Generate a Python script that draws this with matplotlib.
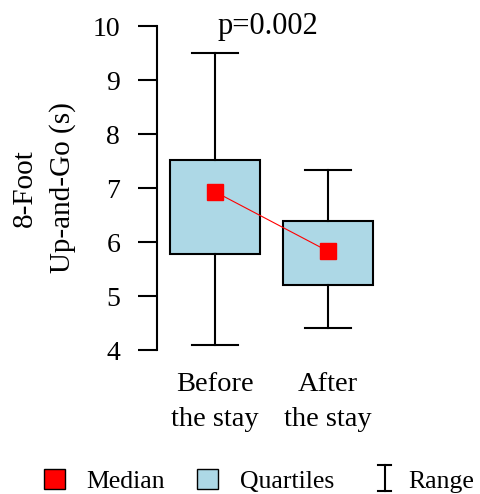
import matplotlib
matplotlib.use("Agg")
from matplotlib import pyplot as plt
from matplotlib.patches import Patch
from matplotlib.lines import Line2D

plt.rcParams["font.family"] = ["Liberation Serif", "DejaVu Serif"]

# data
groups = ["Before\nthe stay", "After\nthe stay"]
mins = [4.09, 4.41]
q1s = [5.77, 5.20]
medians = [6.93, 5.83]
q3s = [7.51, 6.38]
maxs = [9.50, 7.33]
p_text = "p=0.002"
yticks = [4, 5, 6, 7, 8, 9, 10]

positions = [1, 2]
stats = []
for lo, a, m, b, hi in zip(mins, q1s, medians, q3s, maxs):
    stats.append(dict(whislo=lo, q1=a, med=m, q3=b, whishi=hi, fliers=[]))


class RangeHandler:
    # the little "I" symbol used for the range entry
    def legend_artist(self, legend, orig_handle, fontsize, handlebox):
        x0, y0 = handlebox.xdescent, handlebox.ydescent
        w, h = handlebox.width, handlebox.height
        cx = x0 + 0.9 * w
        kw = dict(color="black", lw=1.5, transform=handlebox.get_transform())
        arts = [Line2D([cx, cx], [y0 - 0.2 * h, y0 + 1.1 * h], **kw),
                Line2D([cx - 0.3 * w, cx + 0.3 * w], [y0 + 1.1 * h] * 2, **kw),
                Line2D([cx - 0.3 * w, cx + 0.3 * w], [y0 - 0.2 * h] * 2, **kw)]
        for a in arts:
            handlebox.add_artist(a)
        return arts[0]


fig = plt.figure(figsize=(4.8, 4.94), dpi=100)
ax = fig.add_axes([157 / 480, 1 - 350 / 494, 243 / 480, 324 / 494])

ax.bxp(stats, positions=positions, widths=0.8, capwidths=0.4,
       showfliers=False, patch_artist=True,
       boxprops=dict(facecolor="#ADD8E6", edgecolor="black", linewidth=1.5),
       whiskerprops=dict(color="black", linewidth=1.5),
       capprops=dict(color="black", linewidth=1.5),
       medianprops=dict(linewidth=0))

ax.plot(positions, medians, color="red", lw=0.8, marker="s",
        markersize=12, markerfacecolor="red", markeredgecolor="red", zorder=5)

ax.set_xlim(0.487, 2.637)
ax.set_ylim(4, 10)
ax.set_yticks(yticks)
ax.set_xticks(positions)
ax.set_xticklabels(groups, fontsize=20.5, linespacing=1.5)
ax.tick_params(axis="x", length=0, pad=16)
ax.tick_params(axis="y", length=13.5, width=1.5, pad=13, labelsize=20)
for s in ["top", "right", "bottom"]:
    ax.spines[s].set_visible(False)
ax.spines["left"].set_linewidth(1.5)
ax.spines["left"].set_bounds(4, 10)
ax.set_ylabel("8-Foot\nUp-and-Go (s)", fontsize=21, linespacing=1.55, labelpad=12)

ax.text(1.465, 10, p_text, fontsize=22, ha="center", va="center", clip_on=False)

handles = [Patch(facecolor="red", edgecolor="black", linewidth=1),
           Patch(facecolor="#ADD8E6", edgecolor="black", linewidth=1),
           "range"]
fig.legend(handles, ["Median", "Quartiles", "Range"], loc="center",
           bbox_to_anchor=(0.54, 1 - 481 / 494), ncol=3, frameon=False,
           fontsize=18.5, handlelength=0.8, handleheight=0.8,
           handletextpad=0.85, columnspacing=1.25,
           handler_map={str: RangeHandler()})

fig.savefig("out.png", dpi=100)
